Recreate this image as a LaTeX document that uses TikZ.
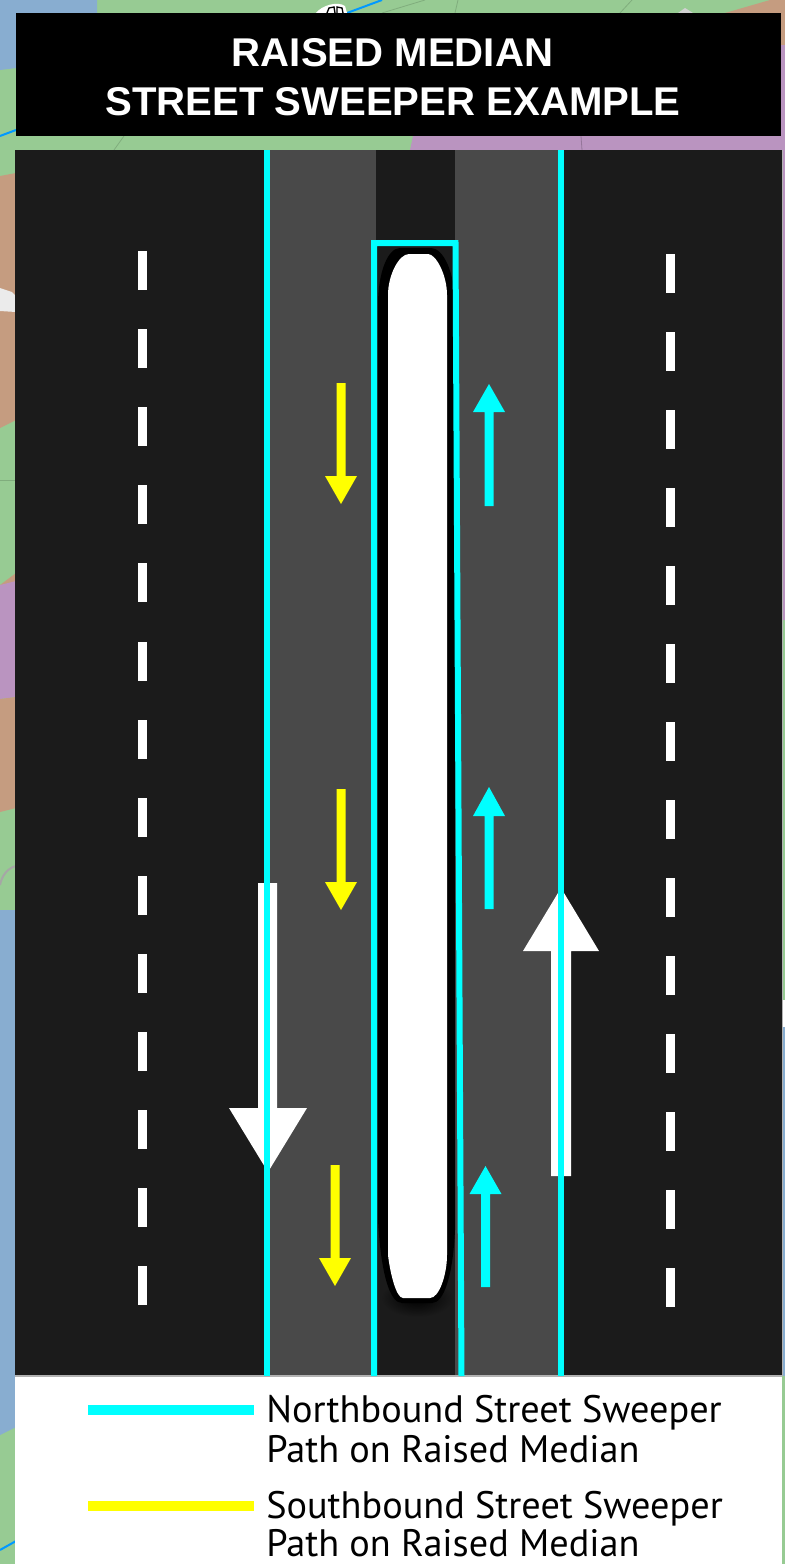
\documentclass[tikz,border=0pt]{standalone}
\usepackage{fontspec}
\setmainfont{Liberation Sans}
\newfontfamily\legendfont{PT Sans}
\usetikzlibrary{arrows.meta,positioning,calc}
\definecolor{road}{HTML}{1B1B1B}
\definecolor{lane}{HTML}{494949}
\definecolor{sweep}{HTML}{00FFFF}
\definecolor{south}{HTML}{FFFF00}
\definecolor{mapblue}{HTML}{88ADD0}
\definecolor{mapgreen}{HTML}{97CB93}
\definecolor{maptan}{HTML}{C59C80}
\definecolor{mappurple}{HTML}{BA94C0}
\tikzset{
  titlebox/.style={fill=black,text=white,align=center,font=\fontsize{30.1}{36.8}\selectfont\bfseries,inner sep=0pt},
  dash mark/.style={fill=white,minimum width=6.75pt,minimum height=29.25pt,inner sep=0pt},
  path line/.style={draw=sweep,line width=4.5pt},
  key line/.style={line width=7.5pt},
  legendtext/.style={anchor=base west,align=left,inner sep=0pt,font=\legendfont\fontsize{28.7}{29.6}\selectfont},
  map line/.style={draw=mapgreen!85!black,line width=0.6pt}
}
\begin{document}
\begin{tikzpicture}[x=0.75pt,y=-0.75pt]
  \useasboundingbox (0,0) rectangle (785,1564);
  % map behind the panels
  \fill[mapgreen] (0,0) rectangle (785,1564);
  \fill[mapblue] (0,0) -- (97,0) -- (97,13) -- (16,13) -- (16,68) -- (0,70) -- cycle;
  \fill[maptan] (725,13) -- (770,0) -- (785,0) -- (785,45) -- (781,45) -- (781,13) -- cycle;
  \fill[mappurple] (410,150) -- (413,136) -- (781,136) -- (781,45) -- (785,45) -- (785,620) -- (782,620) -- (782,150) -- cycle;
  \fill[maptan] (0,176) -- (16,173) -- (16,420) -- (0,428) -- cycle;
  \fill[white!92!black] (0,288) -- (12,292) -- (16,296) -- (16,312) -- (0,311) -- cycle;
  \fill[maptan] (0,585) -- (16,573) -- (16,600) -- (0,600) -- cycle;
  \fill[mappurple] (0,585) -- (16,581) -- (16,697) -- (0,699) -- cycle;
  \fill[maptan] (0,699) -- (16,697) -- (16,808) -- (0,812) -- cycle;
  \fill[mapblue] (0,910) rectangle (16,1427);
  \fill[mapblue] (0,1427) -- (16,1427) -- (0,1435) -- cycle;
  \fill[white] (782,1000) rectangle (785,1027);
  \fill[mapblue] (782,1027) rectangle (785,1376);
  \draw[map line] (0,480) -- (16,480);
  \draw[gray!70,line width=1.5pt] (0,885) .. controls (2,875) and (8,868) .. (16,866);
  \draw[map line] (455,13) -- (458,0);
  \draw[map line] (382,13) -- (425,0);
  \draw[map line] (620,13) -- (632,0);
  \draw[map line] (114,150) -- (124,136);
  \draw[mappurple!80!black,line width=0.6pt] (581,136) -- (582,150);
  \fill[gray!35] (678,13) -- (685,8) -- (693,13) -- cycle;
  \draw[blue!40!cyan,line width=1.5pt] (347,13) -- (382,0);
  \draw[blue!40!cyan,line width=1.5pt] (0,136) -- (16,130);
  \draw[blue!40!cyan,line width=1.5pt] (0,1550) -- (16,1541);
  \fill[white] (316,13) .. controls (322,5) and (338,1) .. (345,6) -- (347,13) -- cycle;
  \draw[black,line width=1pt] (327,13) -- (329,8) -- (334,7) -- (335,13) (337,13) -- (337,7) -- (342,8) -- (343,13);
  % title
  \node[titlebox,minimum width=573.75pt,minimum height=92.25pt] (banner) at (398.5,74.5) {};
  \node[titlebox,anchor=base] (line1) at (392.5,66.7) {RAISED MEDIAN};
  \node[titlebox,anchor=base] (line2) at (393,115.7) {STREET SWEEPER EXAMPLE};
  % road
  \fill[road] (15,150) rectangle (782,1376);
  \fill[lane] (270,150) rectangle (376,1376);
  \fill[lane] (455,150) rectangle (559,1376);
  \fill[white] (15,1376) rectangle (782,1564);
  \draw[gray!60,line width=0.8pt] (15,1376) -- (782,1376);
  \draw[gray!60,line width=1pt] (782.6,150) -- (782.6,1376);
  % lane dashes
  \foreach \k in {0,...,13} {
    \node[dash mark] (l\k) at (142.5,{270.5+78.1*\k}) {};
    \node[dash mark] (r\k) at (670.5,{273+78.03*\k}) {};
  }
  % median
  \shade[inner color=black,outer color=road,shading=radial] (417,1298) ellipse (36 and 19);
  \fill[black] (378,305) .. controls (378,272) and (388,248) .. (400,248) -- (431,248) .. controls (443,248) and (455,272) .. (455,305)
    -- (455,1230) .. controls (453,1275) and (444,1303) .. (432,1303) -- (402,1303) .. controls (390,1303) and (381,1275) .. (378,1220) -- cycle;
  \fill[white] (388,295) .. controls (388,275) and (399,254) .. (409,254) -- (428,254) .. controls (436,254) and (447,275) .. (447,295)
    -- (447,1255) .. controls (447,1275) and (439,1298) .. (430,1298) -- (403,1298) .. controls (396,1298) and (390,1272) .. (388,1255) -- cycle;
  % big white arrows
  \fill[white] (258,883) -- (277,883) -- (277,1108) -- (307,1108) -- (268,1172) -- (229,1108) -- (258,1108) -- cycle;
  \fill[white] (551,1176) -- (571,1176) -- (571,951) -- (599,951) -- (561,888) -- (523,951) -- (551,951) -- cycle;
  % sweeper paths
  \draw[path line] (267,150) -- (267,1376);
  \draw[path line] (561,150) -- (561,1376);
  \draw[path line] (374,1376) -- (374,243) -- (455.5,243) -- (461.5,1376);
  % small arrows
  \foreach \x/\a/\b/\c/\n in {341/383/476/504/s1,341/789/882/910/s2,335/1165/1258/1286/s3} {
    \fill[south] (\x-4.5,\a) -- (\x+4.5,\a) -- (\x+4.5,\b) -- (\x+16,\b) -- (\x,\c) -- (\x-16,\b) -- (\x-4.5,\b) -- cycle;
  }
  \foreach \x/\a/\b/\c/\n in {489/506/412/384/n1,489/909/816/787/n2,485.5/1287/1194/1166/n3} {
    \fill[sweep] (\x-4.5,\a) -- (\x+4.5,\a) -- (\x+4.5,\b) -- (\x+16,\b) -- (\x,\c) -- (\x-16,\b) -- (\x-4.5,\b) -- cycle;
  }
  % legend
  \coordinate (k1a) at (88,1410);
  \coordinate (k1b) at (254,1410);
  \coordinate (k2a) at (88,1506);
  \coordinate (k2b) at (254,1506);
  \draw[key line,draw=sweep] (k1a) -- (k1b);
  \draw[key line,draw=south] (k2a) -- (k2b);
  \node[legendtext] (north1) at (266,1422) {Northbound Street Sweeper};
  \node[legendtext] (north2) at (266,1462) {Path on Raised Median};
  \node[legendtext] (south1) at (266,1518) {Southbound Street Sweeper};
  \node[legendtext] (south2) at (266,1556) {Path on Raised Median};
\end{tikzpicture}
\end{document}
